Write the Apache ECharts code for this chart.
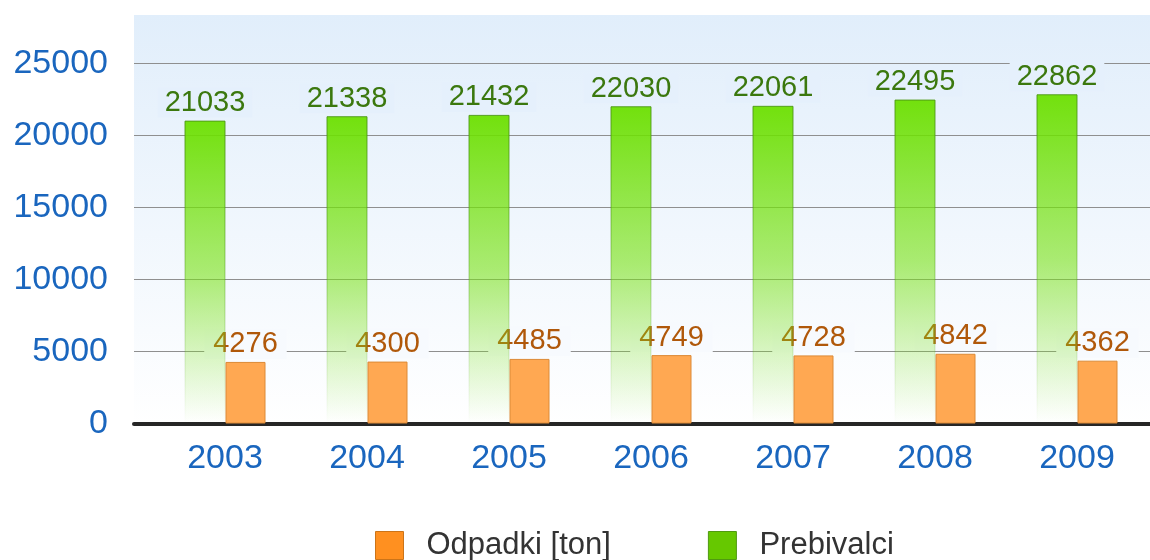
<!DOCTYPE html>
<html><head><meta charset="utf-8">
<script src="https://cdn.jsdelivr.net/npm/echarts@6/dist/echarts.min.js"></script>
<style>html,body{margin:0;padding:0;background:#fff}#c{width:1150px;height:560px}</style>
</head><body><div id="c"></div>
<script>
const years = ['2003','2004','2005','2006','2007','2008','2009'];
const prebivalci = [21033, 21338, 21432, 22030, 22061, 22495, 22862];
const odpadki = [4276, 4300, 4485, 4749, 4728, 4842, 4362];
const yTicks = {min: 0, max: 25000, interval: 5000};

const FONT = '"Liberation Sans", Arial, sans-serif';
const chart = echarts.init(document.getElementById('c'));
const G = echarts.graphic;
chart.setOption({
  animation: false,
  textStyle: {fontFamily: FONT},
  graphic: [{
    type: 'rect', z: -10, silent: true,
    shape: {x: 134, y: 15, width: 1016, height: 411},
    style: {fill: new G.LinearGradient(0, 0, 0, 1, [
      {offset: 0, color: '#e1eefb'}, {offset: 1, color: '#ffffff'}])}
  }],
  grid: [
    {left: 134, right: 0, top: 63.5, bottom: 136.5},
    {left: 154, right: 2, top: 63.5, bottom: 136.5}
  ],
  xAxis: [
    {gridIndex: 0, type: 'category', data: years, offset: 2,
     axisLine: {lineStyle: {color: '#262626', width: 4}},
     axisTick: {show: false}, axisLabel: {show: false}},
    {gridIndex: 1, type: 'category', data: years,
     axisLine: {show: false}, axisTick: {show: false},
     axisLabel: {color: '#1a66be', fontSize: 34, margin: 18, fontFamily: FONT}}
  ],
  yAxis: [
    {gridIndex: 0, type: 'value', min: yTicks.min, max: yTicks.max, interval: yTicks.interval,
     axisLine: {show: false}, axisTick: {show: false},
     axisLabel: {color: '#1a66be', fontSize: 34, margin: 26, fontFamily: FONT,
       formatter: v => String(v)},
     splitLine: {lineStyle: {color: '#8f8f8f', width: 1}}},
    {gridIndex: 1, type: 'value', min: yTicks.min, max: yTicks.max, interval: yTicks.interval,
     show: false, splitLine: {show: false}}
  ],
  legend: {
    left: 375, top: 530, padding: 0, itemWidth: 28, itemHeight: 28, itemGap: 97,
    icon: 'rect',
    textStyle: {fontSize: 31, color: '#333', fontFamily: FONT, padding: [4, 0, 0, 18]},
    data: [
      {name: 'Odpadki [ton]', itemStyle: {color: '#ff9020', borderColor: '#cc7418', borderWidth: 1}},
      {name: 'Prebivalci', itemStyle: {color: '#66c800', borderColor: '#4f9a10', borderWidth: 1}}
    ]
  },
  series: [
    {name: 'Prebivalci', type: 'bar', xAxisIndex: 1, yAxisIndex: 1, data: prebivalci,
     barWidth: 41, barGap: '0%', z: 4,
     itemStyle: {
       color: new G.LinearGradient(0, 0, 0, 1, [
         {offset: 0, color: 'rgba(108,224,0,0.95)'},
         {offset: 0.5, color: 'rgba(120,226,20,0.6)'},
         {offset: 1, color: 'rgba(130,228,40,0)'}]),
       borderColor: new G.LinearGradient(0, 0, 0, 1, [
         {offset: 0, color: 'rgba(75,150,20,0.9)'},
         {offset: 1, color: 'rgba(75,150,20,0)'}]),
       borderWidth: 1
     },
     label: {show: true, position: 'top', distance: 3, color: '#3b780e', fontSize: 29,
       fontFamily: FONT, backgroundColor: '#e5f0fc', padding: [1, 7, 0, 7]}},
    {name: 'Odpadki [ton]', type: 'bar', xAxisIndex: 1, yAxisIndex: 1, data: odpadki,
     barWidth: 40, barGap: '0%', z: 2,
     itemStyle: {color: '#ffa852', borderColor: '#dc8a36', borderWidth: 1},
     label: {show: true, position: 'top', distance: 3, color: '#b0580a', fontSize: 29,
       fontFamily: FONT, backgroundColor: '#f7fafe', padding: [1, 9, 0, 9]}}
  ]
});
</script></body></html>
